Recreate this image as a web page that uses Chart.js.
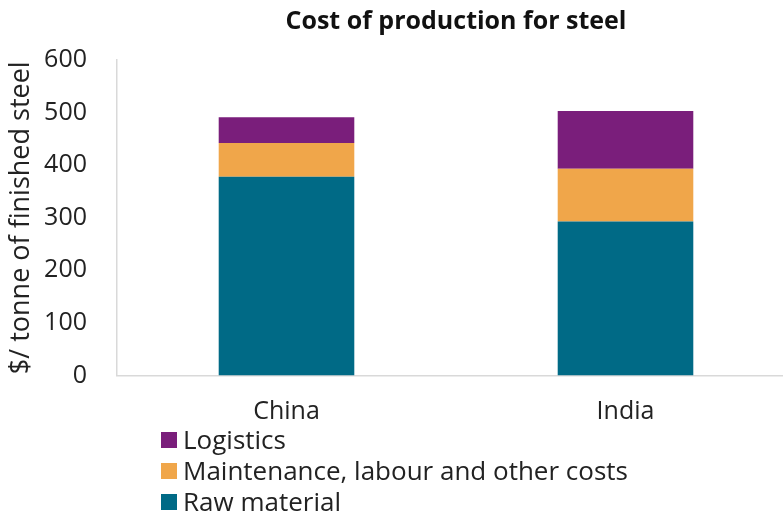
<!DOCTYPE html>
<html>
<head>
<meta charset="utf-8">
<script src="https://cdn.jsdelivr.net/npm/chart.js@4"></script>
<style>
  html, body { margin: 0; padding: 0; background: #fff; overflow: hidden; }
  body { width: 783px; height: 515px; position: relative; font-family: "Open Sans", sans-serif; }
  #wrap { position: absolute; left: 0; top: 0; width: 800px; height: 430px; }
  #legend { position: absolute; left: 161px; top: 424px; color: #222; font-size: 26px; }
  #legend div { height: 31px; line-height: 31px; display: flex; align-items: center; }
  #legend span.box { display: inline-block; width: 16px; height: 16px; margin-right: 6px; }
</style>
</head>
<body>
<div id="wrap"><canvas id="chart" width="800" height="430"></canvas></div>
<div id="legend"></div>
<script>
const countries = ['China', 'India'];
const rawMaterial = [378, 293];
const maintenance = [64, 100];
const logistics = [49, 110];
const yTicks = [0, 100, 200, 300, 400, 500, 600];

const chartTitle = 'Cost of production for steel';
const yTitle = '$/ tonne of finished steel';
const FONT = '"Open Sans", sans-serif';

// title centred over the plot area rather than the whole canvas
const plotTitle = {
  id: 'plotTitle',
  afterDraw(chart) {
    const { ctx, chartArea } = chart;
    ctx.save();
    ctx.font = 'bold 25px ' + FONT;
    ctx.fillStyle = '#111';
    ctx.textAlign = 'center';
    ctx.textBaseline = 'middle';
    ctx.fillText(chartTitle, (chartArea.left + chartArea.right) / 2, 22);
    ctx.restore();
  }
};

const chart = new Chart(document.getElementById('chart'), {
  type: 'bar',
  data: {
    labels: countries,
    datasets: [
      { label: 'Raw material', data: rawMaterial, backgroundColor: '#006a86' },
      { label: 'Maintenance, labour and other costs', data: maintenance, backgroundColor: '#f0a64a' },
      { label: 'Logistics', data: logistics, backgroundColor: '#7a1e7b' }
    ]
  },
  options: {
    responsive: false,
    animation: false,
    layout: { padding: { top: 60, right: 5, left: 0, bottom: 0 } },
    datasets: { bar: { barPercentage: 0.4, categoryPercentage: 1.0 } },
    plugins: {
      legend: { display: false },
      tooltip: { enabled: false }
    },
    scales: {
      x: {
        stacked: true,
        grid: { display: false },
        border: { color: '#d9d9d9', width: 1.5 },
        ticks: { color: '#222', font: { family: FONT, size: 25 }, padding: 13 },
        afterFit(scale) { scale.height = 54.5; }
      },
      y: {
        stacked: true,
        min: 0,
        max: 600,
        afterBuildTicks(scale) { scale.ticks = yTicks.map(v => ({ value: v })); },
        grid: { display: false },
        border: { color: '#d9d9d9', width: 1.5 },
        ticks: { color: '#222', font: { family: FONT, size: 25 }, padding: 22 },
        title: {
          display: true,
          text: yTitle,
          color: '#222',
          font: { family: FONT, size: 27 },
          padding: { top: 5, bottom: 0 }
        },
        afterFit(scale) { scale.width = 117; }
      }
    }
  },
  plugins: [plotTitle]
});

// legend listed top to bottom in stacking order
const legend = document.getElementById('legend');
chart.data.datasets.slice().reverse().forEach(ds => {
  const row = document.createElement('div');
  const box = document.createElement('span');
  box.className = 'box';
  box.style.background = ds.backgroundColor;
  row.appendChild(box);
  row.appendChild(document.createTextNode(ds.label));
  legend.appendChild(row);
});
</script>
</body>
</html>
